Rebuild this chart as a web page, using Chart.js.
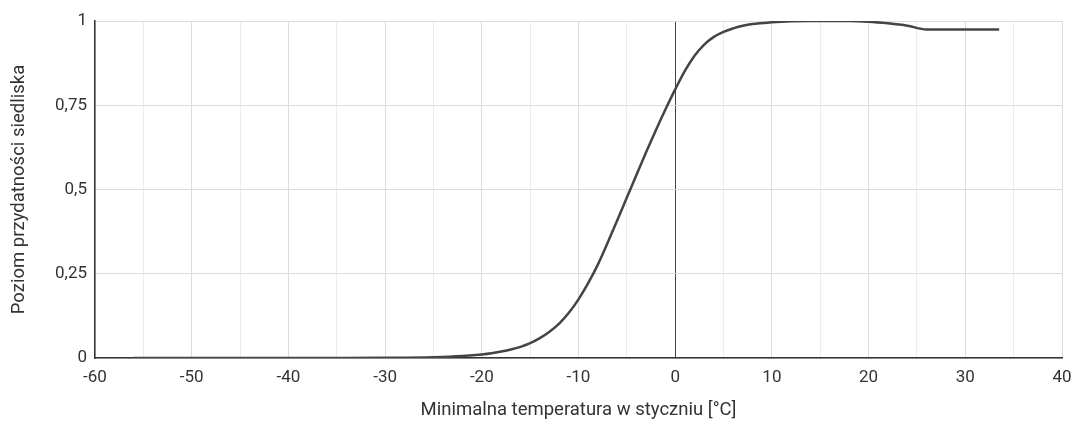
<!DOCTYPE html>
<html>
<head>
<meta charset="utf-8">
<script src="https://cdn.jsdelivr.net/npm/chart.js@4/dist/chart.umd.min.js"></script>
<style>
  html, body { margin: 0; padding: 0; background: #fff; }
</style>
</head>
<body>
<canvas id="chart" width="1072" height="435"></canvas>
<script>
// temperature (x) and habitat suitability (y)
const temps = [-56, -45, -40, -35, -30, -25, -22, -20, -19, -18, -17, -16, -15, -14, -13, -12, -11, -10, -9, -8, -7, -6, -5, -4, -3, -2, -1, 0, 1, 2, 3, 4, 5, 6, 7, 8, 10, 12, 14, 18, 20, 22, 24, 26, 30, 33.5];
const suitability = [0, 0, 0, 0.0001, 0.0006, 0.0025, 0.006, 0.0105, 0.014, 0.019, 0.025, 0.033, 0.044, 0.059, 0.078, 0.102, 0.134, 0.174, 0.222, 0.277, 0.341, 0.408, 0.476, 0.544, 0.611, 0.676, 0.738, 0.797, 0.852, 0.897, 0.93, 0.953, 0.968, 0.978, 0.986, 0.991, 0.996, 0.999, 1.0, 1.0, 0.998, 0.993, 0.986, 0.975, 0.975, 0.975];
const xLabel = "Minimalna temperatura w styczniu [°C]";
const yLabel = "Poziom przydatności siedliska";

const points = temps.map((t, i) => ({ x: t, y: suitability[i] }));

const tickFont = { family: "Roboto", size: 17 };
const titleFont = { family: "Roboto", size: 18.5 };

const ctx = document.getElementById("chart");
new Chart(ctx, {
    type: "line",
    data: {
        datasets: [
            {
                data: points,
                borderColor: "#444",
                borderWidth: 2.5,
                pointRadius: 0,
                cubicInterpolationMode: "monotone",
                fill: false
            }
        ]
    },
    options: {
        responsive: false,
        animation: false,
        layout: { padding: { left: 0, right: 0, top: 21, bottom: 0 } },
        plugins: {
            legend: { display: false },
            tooltip: { enabled: false }
        },
        scales: {
            x: {
                type: "linear",
                min: -60,
                max: 40,
                afterFit: (scale) => {
                    scale.height = 77;
                    scale.paddingLeft = 0;
                    scale.paddingRight = 10;
                },
                border: { display: true, color: "#333", width: 1.5 },
                grid: {
                    drawTicks: false,
                    color: (c) => {
                        const v = c.tick.value;
                        if (v === 0) return "#444";
                        return v % 10 === 0 ? "#dcdcdc" : "#ececec";
                    }
                },
                ticks: {
                    stepSize: 5,
                    padding: 10,
                    color: "#333",
                    font: tickFont,
                    autoSkip: false,
                    maxRotation: 0,
                    callback: (v) => (v % 10 === 0 ? String(v) : "")
                },
                title: {
                    display: true,
                    text: xLabel,
                    color: "#333",
                    font: titleFont,
                    padding: { top: 4, bottom: 14 }
                }
            },
            y: {
                min: 0,
                max: 1,
                afterFit: (scale) => { scale.width = 95; },
                border: { display: true, color: "#333", width: 1.5 },
                grid: { drawTicks: false, color: "#dcdcdc" },
                ticks: {
                    stepSize: 0.25,
                    padding: 8,
                    color: "#333",
                    font: tickFont,
                    callback: (v) => String(v).replace(".", ",")
                },
                title: {
                    display: true,
                    text: yLabel,
                    color: "#333",
                    font: titleFont,
                    padding: { top: 8, bottom: 4 }
                }
            }
        }
    }
});
</script>
</body>
</html>
